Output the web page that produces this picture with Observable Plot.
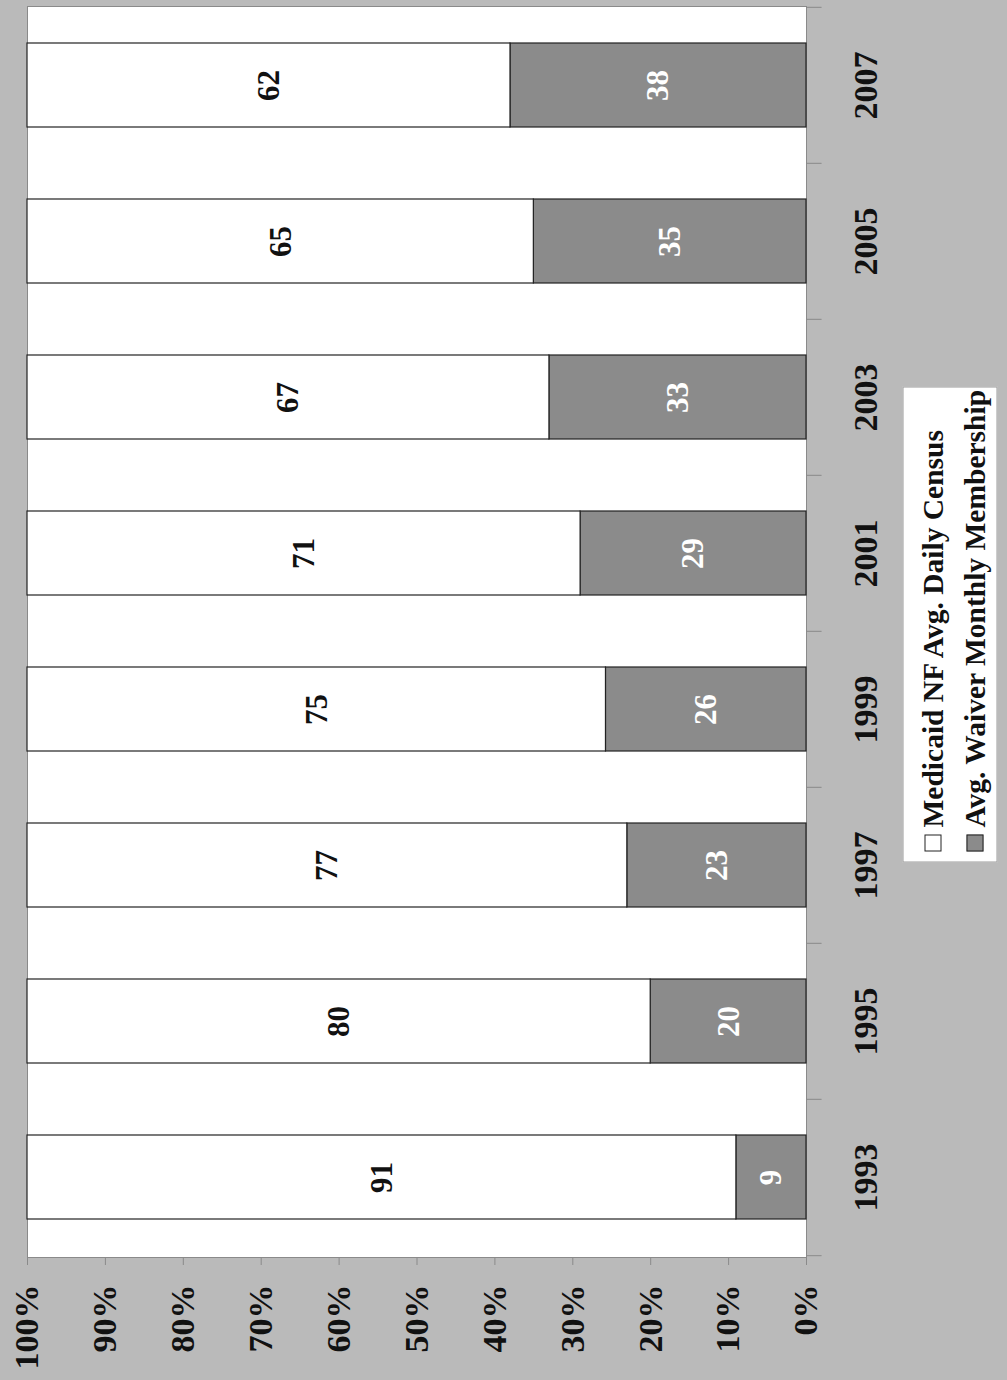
<!DOCTYPE html>
<html>
<head>
<meta charset="utf-8">
<script src="https://cdn.jsdelivr.net/npm/d3@7"></script>
<script src="https://cdn.jsdelivr.net/npm/@observablehq/plot@0.6"></script>
<style>
  html, body { margin: 0; padding: 0; background: #bababa; }
  #wrap { position: relative; width: 1007px; height: 1380px; overflow: hidden; background: #bababa; }
  #legend {
    position: absolute; left: 712px; top: 577px; width: 476px; height: 95px;
    transform: rotate(-90deg); transform-origin: 50% 50%;
    background: #fff; border: 1px solid #9a9a9a; box-sizing: border-box;
    font-family: "Liberation Serif", "Times New Roman", serif; font-weight: bold; font-size: 29.5px;
    padding-top: 8px; color: #111;
  }
  #legend .row { display: flex; align-items: center; height: 42px; white-space: nowrap; }
  #legend .sw { width: 17px; height: 17px; border: 1px solid #222; box-sizing: border-box; margin-left: 10px; margin-right: 7px; flex: none; }
</style>
</head>
<body>
<div id="wrap"></div>
<script>
const years = ["1993", "1995", "1997", "1999", "2001", "2003", "2005", "2007"];
const medicaid = [91, 80, 77, 75, 71, 67, 65, 62];
const waiver = [9, 20, 23, 26, 29, 33, 35, 38];
const seriesNames = ["Avg. Waiver Monthly Membership", "Medicaid NF Avg. Daily Census"];
const seriesColors = ["#8b8b8b", "#ffffff"];
const xTicks = [0, 0.1, 0.2, 0.3, 0.4, 0.5, 0.6, 0.7, 0.8, 0.9, 1];
const legendOrder = ["Medicaid NF Avg. Daily Census", "Avg. Waiver Monthly Membership"];

const rows = years.flatMap((yr, i) => [
  {year: yr, series: seriesNames[0], value: waiver[i]},
  {year: yr, series: seriesNames[1], value: medicaid[i]}
]);

const W = 1007, H = 1380, mL = 27, mR = 201, mT = 6, mB = 123;
const step = (H - mT - mB) / years.length;
const font = "Liberation Serif";

const chart = Plot.plot({
  width: W, height: H,
  marginLeft: mL, marginRight: mR, marginTop: mT, marginBottom: mB,
  style: {background: "#bababa", fontFamily: font, fontWeight: "bold", color: "#111"},
  x: {domain: [0, 1], reverse: true},
  y: {domain: years.slice().reverse(), paddingInner: 0.46, paddingOuter: 0.23, axis: null},
  color: {domain: seriesNames, range: seriesColors},
  marks: [
    Plot.frame({fill: "white", stroke: "#8a8a8a"}),
    Plot.barX(rows, Plot.stackX({x: "value", y: "year", fill: "series", offset: "normalize",
      stroke: "#222", strokeWidth: 1.2})),
    Plot.text(rows, Plot.stackX({x: "value", y: "year", z: "series", offset: "normalize",
      text: d => d.series === seriesNames[0] ? String(d.value) : null,
      rotate: -90, fill: "white", fontSize: 31, fontWeight: "bold", textAnchor: "middle", lineAnchor: "middle"})),
    Plot.text(rows, Plot.stackX({x: "value", y: "year", z: "series", offset: "normalize",
      text: d => d.series === seriesNames[1] ? String(d.value) : null,
      rotate: -90, fill: "#111", fontSize: 31, fontWeight: "bold", textAnchor: "middle", lineAnchor: "middle"})),
    Plot.axisX({ticks: xTicks, tickFormat: d => Math.round(d * 100) + "%", anchor: "bottom", tickRotate: -90,
      tickSize: 8, tickPadding: 19, textAnchor: "end", lineAnchor: "middle",
      stroke: "#8a8a8a", fill: "#111", fontSize: 34, fontWeight: "bold", label: null}),
    Plot.text(years, {y: d => d, frameAnchor: "right", dx: 60, rotate: -90, text: d => d,
      fontSize: 34, fontWeight: "bold", fill: "#111", textAnchor: "middle", lineAnchor: "middle"}),
    Plot.ruleY(years, {y: d => d, x1: 0, x2: -0.02, dy: -step / 2, stroke: "#8a8a8a"}),
    Plot.ruleY(years.slice(0, 1), {y: d => d, x1: 0, x2: -0.02, dy: step / 2, stroke: "#8a8a8a"})
  ]
});

const wrap = document.getElementById("wrap");
wrap.appendChild(chart);

const legend = document.createElement("div");
legend.id = "legend";
for (const name of legendOrder) {
  const row = document.createElement("div");
  row.className = "row";
  const sw = document.createElement("span");
  sw.className = "sw";
  sw.style.background = seriesColors[seriesNames.indexOf(name)];
  const label = document.createElement("span");
  label.textContent = name;
  row.appendChild(sw);
  row.appendChild(label);
  legend.appendChild(row);
}
wrap.appendChild(legend);
</script>
</body>
</html>
